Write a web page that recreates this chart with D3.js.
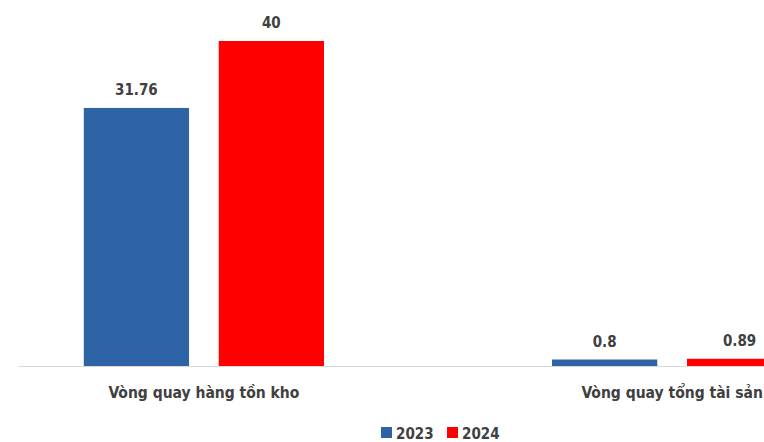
<!DOCTYPE html>
<html>
<head>
<meta charset="utf-8">
<script src="https://cdn.jsdelivr.net/npm/d3@7"></script>
<style>
  body { margin: 0; background: #fff; }
  text { font-family: 'DejaVu Sans Condensed', 'DejaVu Sans', sans-serif; font-weight: bold; fill: #404040; }
</style>
</head>
<body>
<div id="chart"></div>
<script>
// ------------- Data ----------------- //
const categories = ['Vòng quay hàng tồn kho', 'Vòng quay tổng tài sản'];
const years = ['2023', '2024'];
const values2023 = [31.76, 0.8];
const values2024 = [40, 0.89];
const colors = ['#2E63A6', '#FF0000'];

const panelWidth = 764, panelHeight = 442;

const svg = d3.select('#chart')
  .append('svg')
  .attr('width', panelWidth)
  .attr('height', panelHeight);

// x scales: outer for categories, inner for years
const x0 = d3.scaleBand()
  .domain(categories)
  .range([-30, 906])
  .paddingInner(0.487)
  .paddingOuter(0.243);

const x1 = d3.scaleBand()
  .domain(years)
  .range([0, x0.bandwidth()])
  .paddingInner(0.22);

const y = d3.scaleLinear().domain([0, 40]).range([366, 41]);

const rows = categories.map((c, i) => ({
  category: c,
  values: [
    { year: '2023', value: values2023[i] },
    { year: '2024', value: values2024[i] }
  ]
}));

const colorScale = d3.scaleOrdinal().domain(years).range(colors);

// baseline
svg.append('line')
  .attr('x1', 18)
  .attr('x2', panelWidth)
  .attr('y1', y(0) + 0.5)
  .attr('y2', y(0) + 0.5)
  .attr('stroke', '#d9d9d9')
  .attr('stroke-width', 1);

const groups = svg.selectAll('.group')
  .data(rows)
  .enter()
  .append('g')
  .attr('class', 'group')
  .attr('transform', (d) => 'translate(' + x0(d.category) + ',0)');

groups.selectAll('rect')
  .data((d) => d.values)
  .enter()
  .append('rect')
  .attr('x', (d) => x1(d.year))
  .attr('y', (d) => y(d.value))
  .attr('width', x1.bandwidth())
  .attr('height', (d) => y(0) - y(d.value))
  .attr('fill', (d) => colorScale(d.year));

// value labels
groups.selectAll('.val')
  .data((d) => d.values)
  .enter()
  .append('text')
  .attr('class', 'val')
  .attr('x', (d) => x1(d.year) + x1.bandwidth() / 2)
  .attr('y', (d) => y(d.value) - 13)
  .attr('text-anchor', 'middle')
  .attr('font-size', 15)
  .text((d) => d.value);

// category labels
const xAxis = d3.axisBottom(x0).tickSize(0).tickPadding(0);
const axisG = svg.append('g')
  .attr('transform', 'translate(0,' + y(0) + ')')
  .call(xAxis);
axisG.select('.domain').remove();
axisG.selectAll('.tick text')
  .attr('dy', null)
  .attr('y', 32)
  .attr('font-size', 15.5)
  .attr('fill', '#404040');

// legend
const legend = svg.append('g').attr('transform', 'translate(381,433)');
const legendItems = legend.selectAll('g')
  .data(years)
  .enter()
  .append('g')
  .attr('transform', (d, i) => 'translate(' + i * 66 + ',0)');

legendItems.append('rect')
  .attr('x', 0)
  .attr('y', -6)
  .attr('width', 11)
  .attr('height', 11)
  .attr('fill', (d) => colorScale(d));

legendItems.append('text')
  .attr('x', 15)
  .attr('y', 6)
  .attr('font-size', 15)
  .text((d) => d);
</script>
</body>
</html>
